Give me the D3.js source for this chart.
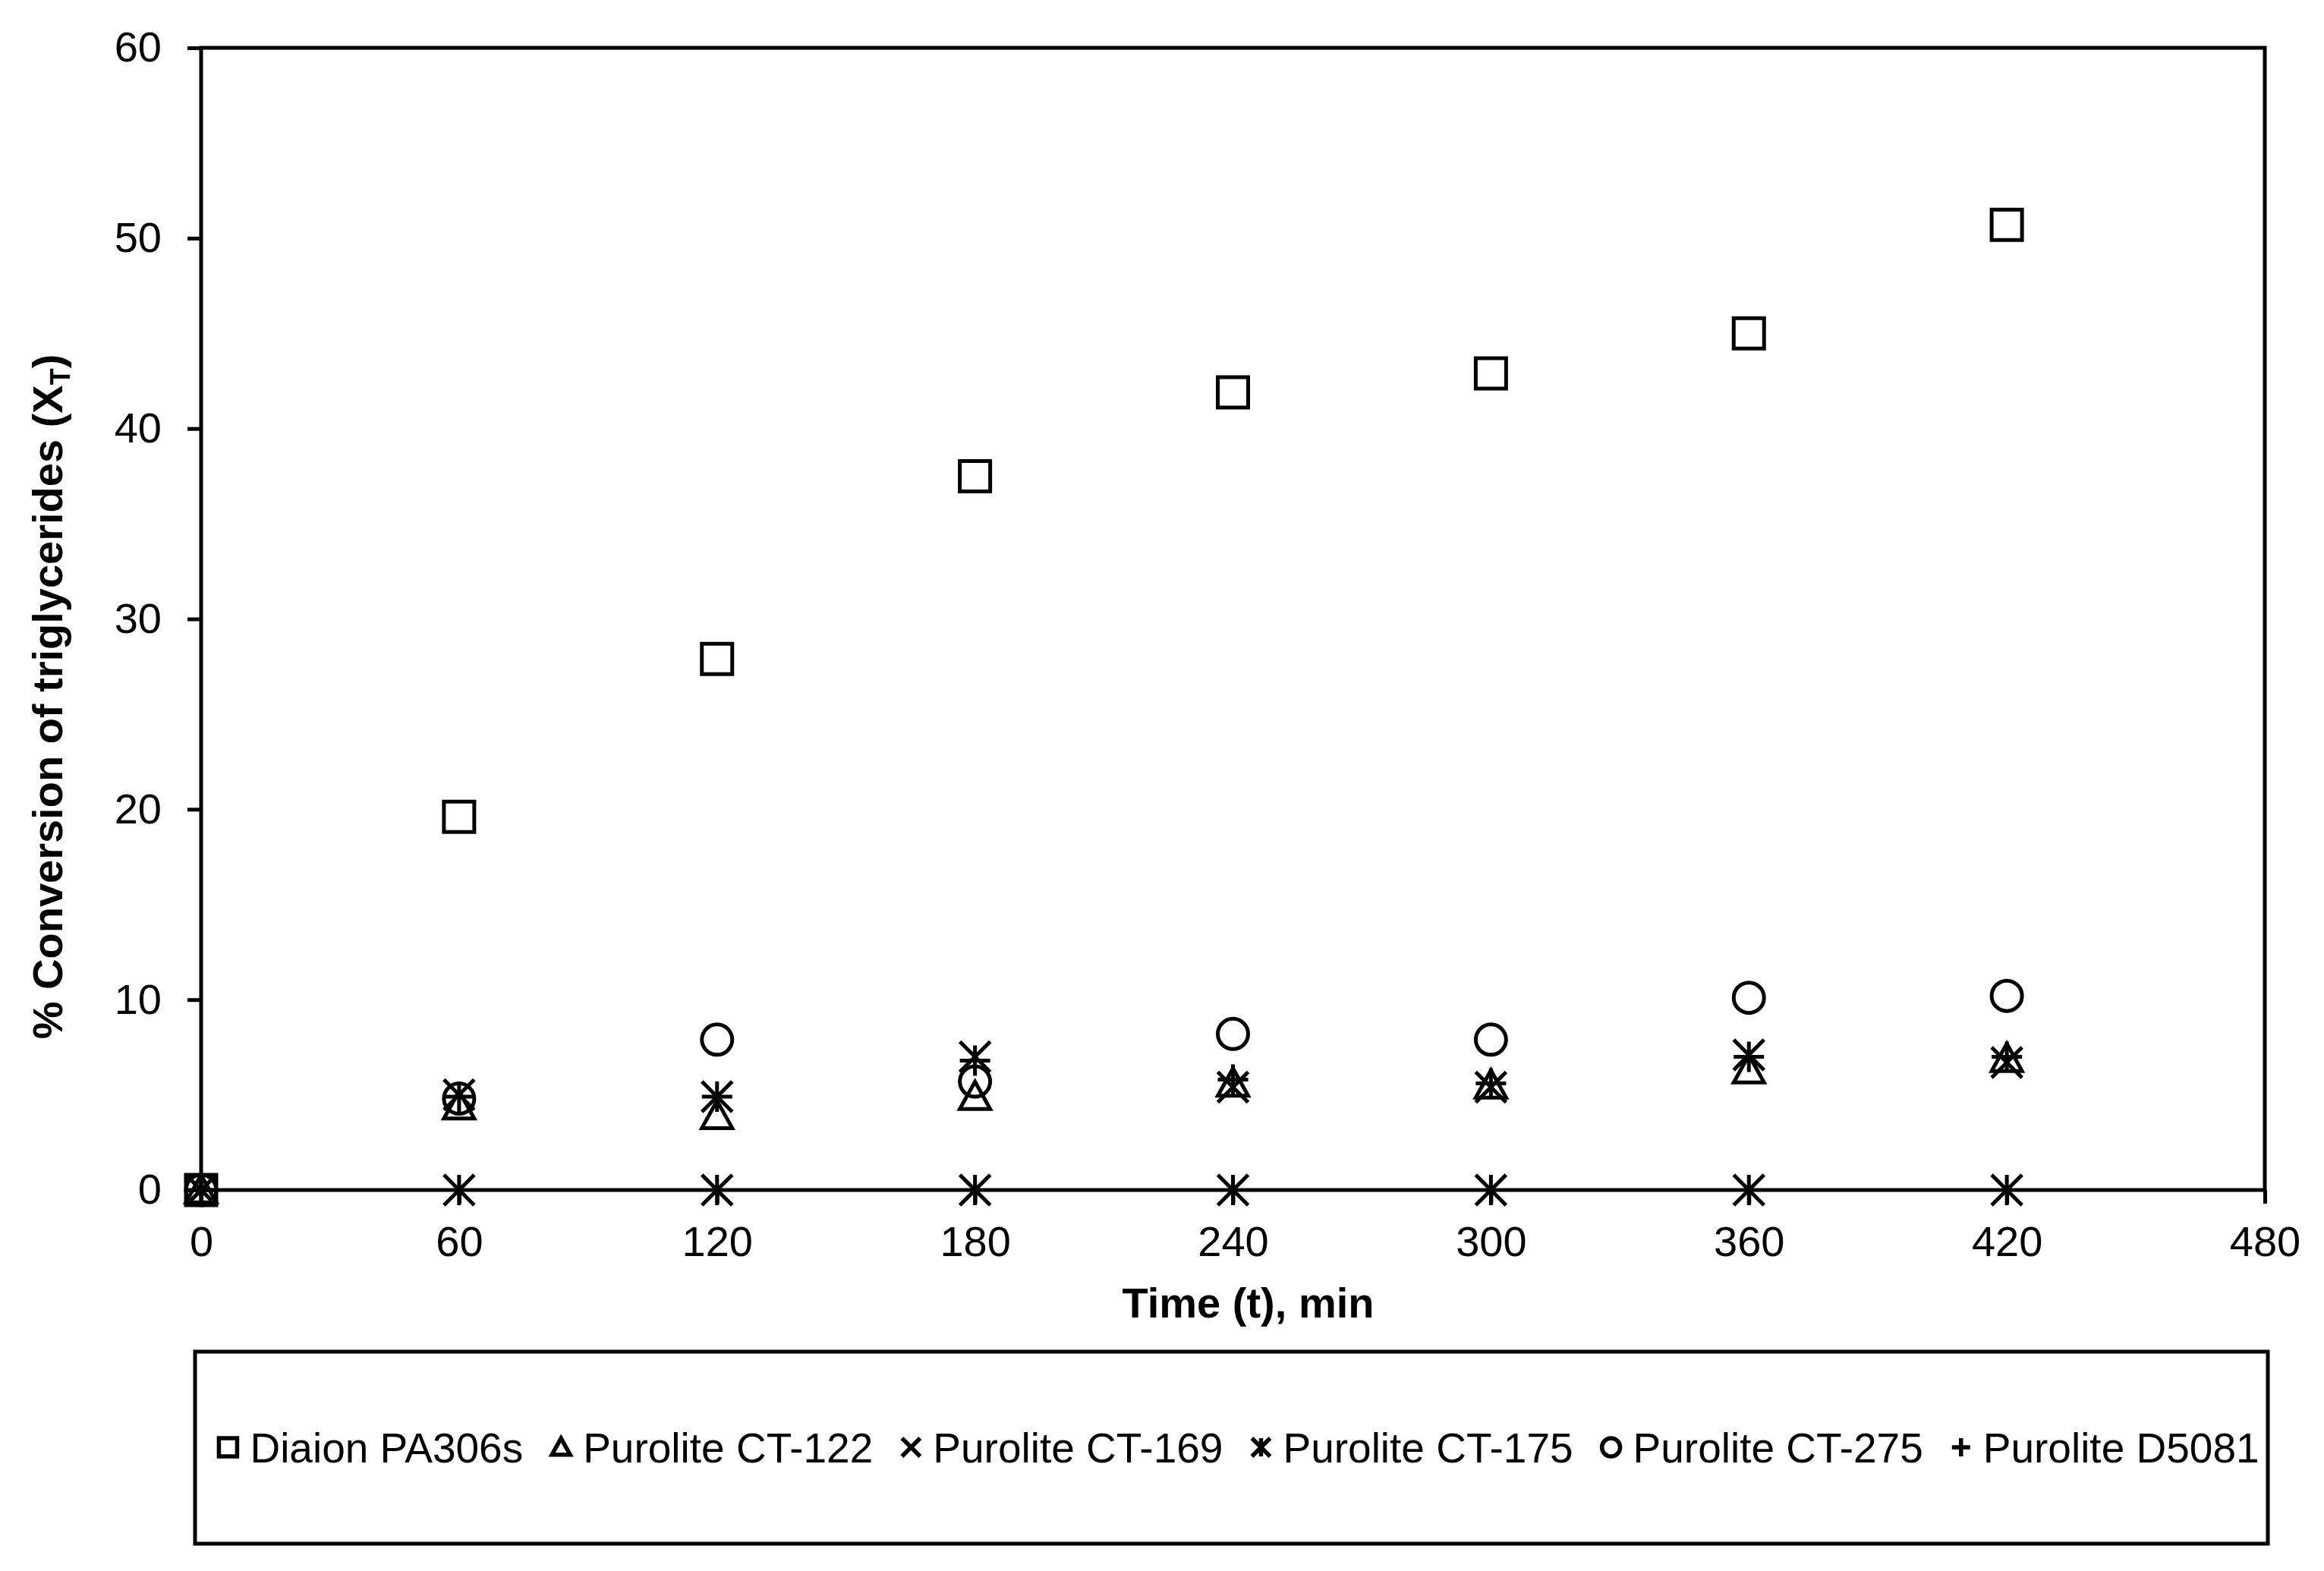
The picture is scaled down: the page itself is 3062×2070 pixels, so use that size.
<!DOCTYPE html>
<html>
<head>
<meta charset="utf-8">
<script src="https://cdn.jsdelivr.net/npm/d3@7"></script>
<style>
  html, body { margin: 0; padding: 0; background: #fff; }
  svg { display: block; }
  text { font-family: "Liberation Sans", Arial, sans-serif; fill: #000; }
</style>
</head>
<body>
<svg id="chart" width="3062" height="2070"></svg>
<script>
// ---- data ----
const times = [0, 60, 120, 180, 240, 300, 360, 420];
const diaionPA306s = [0, 19.6, 27.9, 37.5, 41.9, 42.9, 45.0, 50.7];
const puroliteCT122 = [0, 4.4, 3.9, 4.9, 5.6, 5.5, 6.3, 6.9];
const puroliteCT169 = [0, 5.0, 4.9, 7.0, 5.4, 5.4, 7.1, 6.7];
const puroliteCT175 = [0, 0, 0, 0, 0, 0, 0, 0];
const puroliteCT275 = [0, 4.8, 7.9, 5.7, 8.2, 7.9, 10.1, 10.2];
const puroliteD5081 = [0, 4.9, 4.9, 6.8, 5.8, 5.6, 7.0, 7.0];
const seriesNames = ["Diaion PA306s", "Purolite CT-122", "Purolite CT-169", "Purolite CT-175", "Purolite CT-275", "Purolite D5081"];
const seriesValues = [diaionPA306s, puroliteCT122, puroliteCT169, puroliteCT175, puroliteCT275, puroliteD5081];
const seriesMarkers = ["square", "triangle", "x", "star", "circle", "plus"];
const xTicks = [0, 60, 120, 180, 240, 300, 360, 420, 480];
const yTicks = [0, 10, 20, 30, 40, 50, 60];
const xTitle = "Time (t), min";

// ---- layout ----
const svg = d3.select("#chart");
const L = 265, R = 2984, T = 63, B = 1568;
const x = d3.scaleLinear().domain([0, 480]).range([L, R]);
const y = d3.scaleLinear().domain([0, 60]).range([B, T]);

function markerPath(type, s) {
  const h = s / 2;
  const p = d3.path();
  if (type === "square") {
    p.rect(-h, -h, s, s);
  } else if (type === "circle") {
    p.moveTo(h, 0); p.arc(0, 0, h, 0, Math.PI * 2);
  } else if (type === "triangle") {
    const th = s * 0.9;
    p.moveTo(0, -th * 0.55); p.lineTo(h, th * 0.45); p.lineTo(-h, th * 0.45); p.closePath();
  } else if (type === "x") {
    p.moveTo(-h, -h); p.lineTo(h, h); p.moveTo(h, -h); p.lineTo(-h, h);
  } else if (type === "star") {
    p.moveTo(-h, -h); p.lineTo(h, h); p.moveTo(h, -h); p.lineTo(-h, h);
    p.moveTo(0, -h); p.lineTo(0, h);
  } else if (type === "plus") {
    p.moveTo(-h, 0); p.lineTo(h, 0); p.moveTo(0, -h); p.lineTo(0, h);
  }
  return p.toString();
}

// axes
const yAxis = d3.axisLeft(y).tickValues(yTicks).tickSize(18).tickSizeOuter(0).tickPadding(34);
const xAxis = d3.axisBottom(x).tickValues(xTicks).tickSize(18).tickSizeOuter(0).tickPadding(29);

const gy = svg.append("g").attr("transform", `translate(${L},0)`).call(yAxis);
const gx = svg.append("g").attr("transform", `translate(0,${B})`).call(xAxis);
[gx, gy].forEach(g => {
  g.select(".domain").remove();
  g.selectAll(".tick line").attr("stroke", "#000").attr("stroke-width", 5);
  g.selectAll(".tick text").attr("font-size", 56).attr("font-family", "Liberation Sans, Arial, sans-serif").attr("fill", "#000");
});

// plot border
svg.append("rect")
  .attr("x", L).attr("y", T).attr("width", R - L).attr("height", B - T)
  .attr("fill", "none").attr("stroke", "#000").attr("stroke-width", 5);

// markers
seriesValues.forEach((vals, si) => {
  const type = seriesMarkers[si];
  svg.append("g").selectAll("path")
    .data(times.map((t, i) => [t, vals[i]]))
    .join("path")
    .attr("transform", d => `translate(${x(d[0])},${y(d[1])})`)
    .attr("d", markerPath(type, 40))
    .attr("fill", "none")
    .attr("stroke", "#000")
    .attr("stroke-width", 5);
});

// axis titles
svg.append("text")
  .attr("x", (L + R) / 2 + 20).attr("y", 1736)
  .attr("text-anchor", "middle").attr("font-size", 56).attr("font-weight", "bold")
  .text(xTitle);

const yt = svg.append("text")
  .attr("transform", "translate(82,918) rotate(-90)")
  .attr("text-anchor", "middle").attr("font-size", 56).attr("font-weight", "bold");
yt.append("tspan").text("% Conversion of triglycerides (X");
yt.append("tspan").attr("font-size", 36).attr("dy", 10).text("T");
yt.append("tspan").attr("dy", -10).text(")");

// legend
const LB = { x: 257, y: 1781, w: 2731, h: 253 };
svg.append("rect")
  .attr("x", LB.x).attr("y", LB.y).attr("width", LB.w).attr("height", LB.h)
  .attr("fill", "#fff").attr("stroke", "#000").attr("stroke-width", 5);

const legendG = svg.append("g");
const baseY = 1927;
const markerToText = 29, itemGap = 50;
let cursor = 0;
const items = [];
seriesNames.forEach((name, i) => {
  const t = legendG.append("text").attr("font-size", 55).attr("y", baseY).text(name);
  const w = t.node().getComputedTextLength();
  items.push({ t, w, mx: cursor, type: seriesMarkers[i] });
  cursor += markerToText + w + itemGap;
});
const totalW = cursor - itemGap + 12;
const startX = LB.x + (LB.w - totalW) / 2 + 22;
items.forEach(it => {
  const mx = startX + it.mx;
  it.t.attr("x", mx + markerToText);
  legendG.append("path")
    .attr("transform", `translate(${mx},${baseY - 20})`)
    .attr("d", markerPath(it.type, 24))
    .attr("fill", "none").attr("stroke", "#000").attr("stroke-width", 5.5);
});
</script>
</body>
</html>
